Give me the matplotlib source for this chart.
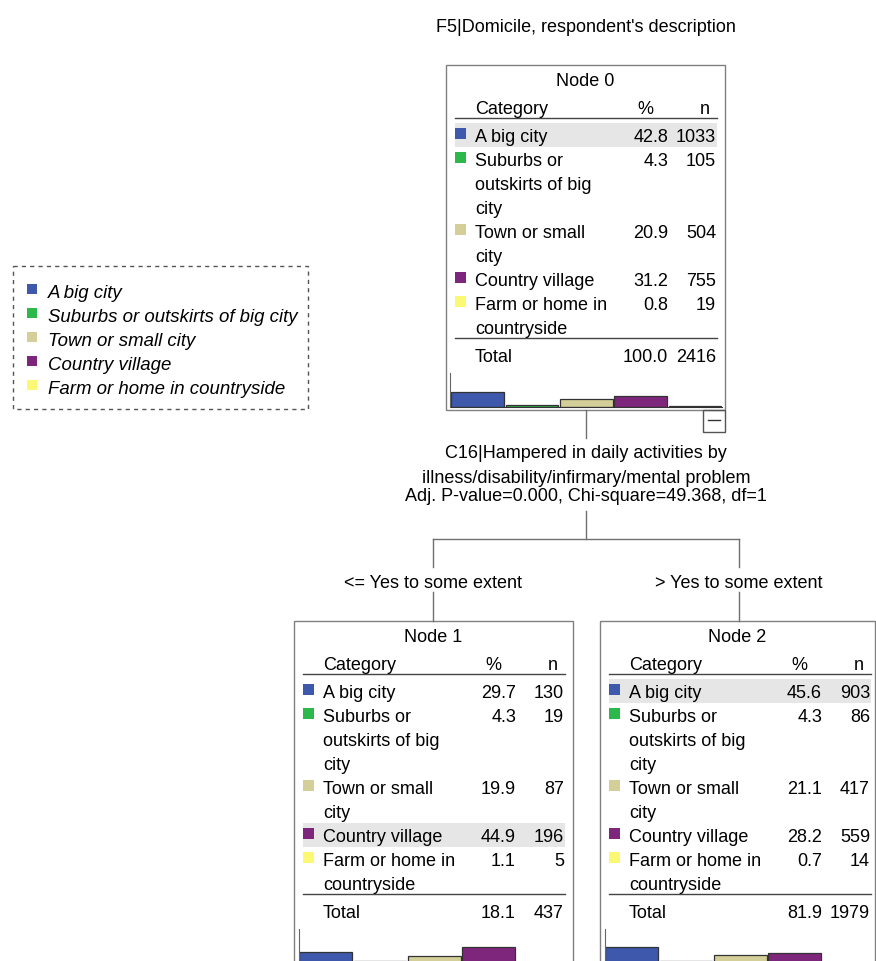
import matplotlib.pyplot as plt
from matplotlib.patches import Rectangle
import textwrap

plt.rcParams['font.family'] = ['Liberation Sans', 'DejaVu Sans']

title = "F5|Domicile, respondent's description"
categories = ["A big city", "Suburbs or outskirts of big city", "Town or small city",
              "Country village", "Farm or home in countryside"]
colors = ["#3E58AC", "#2DB84B", "#D4CF98", "#7E267C", "#FBF874"]

node_names = ["Node 0", "Node 1", "Node 2"]
node0_pct = [42.8, 4.3, 20.9, 31.2, 0.8]
node0_n = [1033, 105, 504, 755, 19]
node1_pct = [29.7, 4.3, 19.9, 44.9, 1.1]
node1_n = [130, 19, 87, 196, 5]
node2_pct = [45.6, 4.3, 21.1, 28.2, 0.7]
node2_n = [903, 86, 417, 559, 14]
total_pct = [100.0, 18.1, 81.9]
total_n = [2416, 437, 1979]

split_var = ["C16|Hampered in daily activities by",
             "illness/disability/infirmary/mental problem"]
split_stats = "Adj. P-value=0.000, Chi-square=49.368, df=1"
branch_labels = ["<= Yes to some extent", "> Yes to some extent"]

W, H = 876, 962
fs = 13
box_col = '#808080'

fig = plt.figure(figsize=(W / 100, H / 100), dpi=100)
ax = fig.add_axes([0, 0, 1, 1])
ax.set_xlim(0, W)
ax.set_ylim(H, 0)
ax.axis('off')


def draw_node(x0, y0, w, name, pct, n, tpct, tn):
    ax.add_patch(Rectangle((x0, y0), w, 344.5, fill=False, ec=box_col, lw=1))
    ax.text(x0 + w / 2, y0 + 20, name, ha='center', va='baseline', fontsize=fs)
    ax.text(x0 + 29, y0 + 48, "Category", va='baseline', fontsize=fs)
    ax.text(x0 + 199, y0 + 48, "%", ha='center', va='baseline', fontsize=fs)
    ax.text(x0 + 264, y0 + 48, "n", ha='right', va='baseline', fontsize=fs)
    ax.plot([x0 + 9, x0 + 271], [y0 + 53, y0 + 53], color='#444444', lw=1)
    best = pct.index(max(pct))
    line = 0
    for i, cat in enumerate(categories):
        base = y0 + 76 + 24 * line
        if i == best:
            ax.add_patch(Rectangle((x0 + 9, base - 18), 262, 24, color='#e6e6e6', lw=0))
        ax.add_patch(Rectangle((x0 + 9, base - 13.5), 11, 11, color=colors[i], lw=0))
        for k, part in enumerate(textwrap.wrap(cat, 16)):
            ax.text(x0 + 29, base + 24 * k, part, va='baseline', fontsize=fs)
            line += 1
        ax.text(x0 + 222, base, f"{pct[i]:.1f}", ha='right', va='baseline', fontsize=fs)
        ax.text(x0 + 270, base, f"{n[i]}", ha='right', va='baseline', fontsize=fs)
    ax.plot([x0 + 9, x0 + 271], [y0 + 273, y0 + 273], color='#444444', lw=1)
    ax.text(x0 + 29, y0 + 296, "Total", va='baseline', fontsize=fs)
    ax.text(x0 + 222, y0 + 296, f"{tpct:.1f}", ha='right', va='baseline', fontsize=fs)
    ax.text(x0 + 270, y0 + 296, f"{tn}", ha='right', va='baseline', fontsize=fs)

    # mini histogram
    left, right = x0 + 4.5, x0 + 276
    top, bottom = y0 + 307.5, y0 + 341.5
    hax = fig.add_axes([left / W, 1 - bottom / H, (right - left) / W, (bottom - top) / H])
    hax.bar(range(len(pct)), pct, width=0.97, color=colors, edgecolor='#333333', lw=0.9)
    hax.set_xlim(-0.5, len(pct) - 0.5)
    hax.set_ylim(0, 100)
    hax.set_facecolor('none')
    hax.set_xticks([])
    hax.set_yticks([])
    for s in ['top', 'right']:
        hax.spines[s].set_visible(False)
    hax.spines['left'].set_color('#666666')
    hax.spines['bottom'].set_color('#333333')


ax.text(585.5, 32, title, ha='center', va='baseline', fontsize=fs)

draw_node(446, 66, 279, node_names[0], node0_pct, node0_n, total_pct[0], total_n[0])
draw_node(294, 622, 279, node_names[1], node1_pct, node1_n, total_pct[1], total_n[1])
draw_node(600, 622, 275, node_names[2], node2_pct, node2_n, total_pct[2], total_n[2])

# collapse toggle under node 0
ax.add_patch(Rectangle((703, 410.5), 22, 22, fill=False, ec='#555555', lw=1))
ax.plot([708, 720], [421, 421], color='#333333', lw=1)

# connectors
lc = '#707070'
ax.plot([586, 586], [410.5, 439], color=lc, lw=1)
ax.text(586, 458, split_var[0], ha='center', va='baseline', fontsize=fs)
ax.text(586, 483, split_var[1], ha='center', va='baseline', fontsize=fs)
ax.text(586, 501, split_stats, ha='center', va='baseline', fontsize=fs)
ax.plot([586, 586], [512, 540], color=lc, lw=1)
ax.plot([433, 739], [540, 540], color=lc, lw=1)
for xc, lab in zip([433, 739], branch_labels):
    ax.plot([xc, xc], [540, 568], color=lc, lw=1)
    ax.text(xc, 588, lab, ha='center', va='baseline', fontsize=fs)
    ax.plot([xc, xc], [593, 622], color=lc, lw=1)

# legend
ax.add_patch(Rectangle((13, 267), 295, 143, fill=False, ec='#555555', lw=1,
                       linestyle=(0, (3, 3))))
for i, cat in enumerate(categories):
    base = 298 + 24 * i
    ax.add_patch(Rectangle((27, base - 13), 10, 10, color=colors[i], lw=0))
    ax.text(48, base, cat, style='italic', va='baseline', fontsize=13.4)

fig.savefig("out.png", dpi=100)
